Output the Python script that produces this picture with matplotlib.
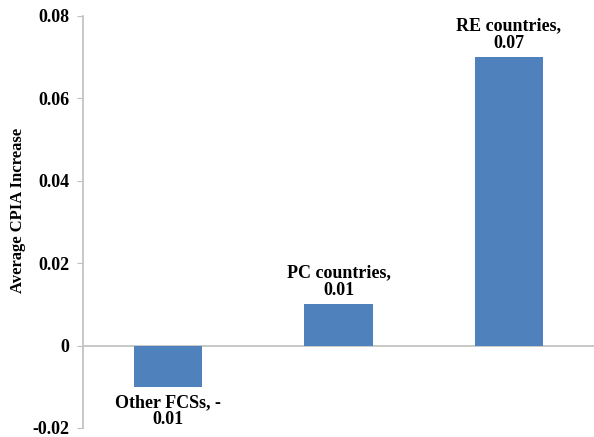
import numpy as np
import matplotlib.pyplot as plt

categories = ['Other FCSs', 'PC countries', 'RE countries']
values = [-0.01, 0.01, 0.07]
labels = ['Other FCSs, -\n0.01', 'PC countries,\n0.01', 'RE countries,\n0.07']

plt.rcParams['font.family'] = ['Liberation Serif', 'DejaVu Serif']
plt.rcParams['font.weight'] = 'bold'

fig = plt.figure(figsize=(5.94, 4.37), dpi=100)
ax = fig.add_axes([83 / 594, 1 - 428 / 437, 511 / 594, 412 / 437])

x = np.arange(len(categories))
bars = ax.bar(x, values, width=0.4, color='#4F81BD', zorder=2)

ax.set_xlim(-0.5, 2.5)
ax.set_ylim(-0.02, 0.08)
ax.set_yticks(np.arange(-0.02, 0.081, 0.02))
ax.set_yticklabels(['-0.02', '0', '0.02', '0.04', '0.06', '0.08'], fontsize=13, fontweight='bold')
ax.set_xticks([])
ax.axhline(0, color='#BFBFBF', lw=1.2, zorder=1)

for s in ['top', 'right', 'bottom']:
    ax.spines[s].set_visible(False)
ax.spines['left'].set_color('#BFBFBF')
ax.spines['left'].set_linewidth(1.2)
ax.tick_params(axis='y', length=4, color='#BFBFBF', pad=6)

ax.set_ylabel('Average CPIA Increase', fontsize=12, fontweight='bold')
ax.yaxis.set_label_coords(-0.112, 0.527)

for xi, v, lab in zip(x, values, labels):
    if v >= 0:
        ax.annotate(lab, (xi, v), xytext=(0, 4), textcoords='offset points',
                    ha='center', va='bottom', fontsize=13, fontweight='bold',
                    linespacing=1.05)
    else:
        ax.annotate(lab, (xi, v), xytext=(0, -5), textcoords='offset points',
                    ha='center', va='top', fontsize=13, fontweight='bold',
                    linespacing=1.05)

fig.savefig('out.png', dpi=100)
